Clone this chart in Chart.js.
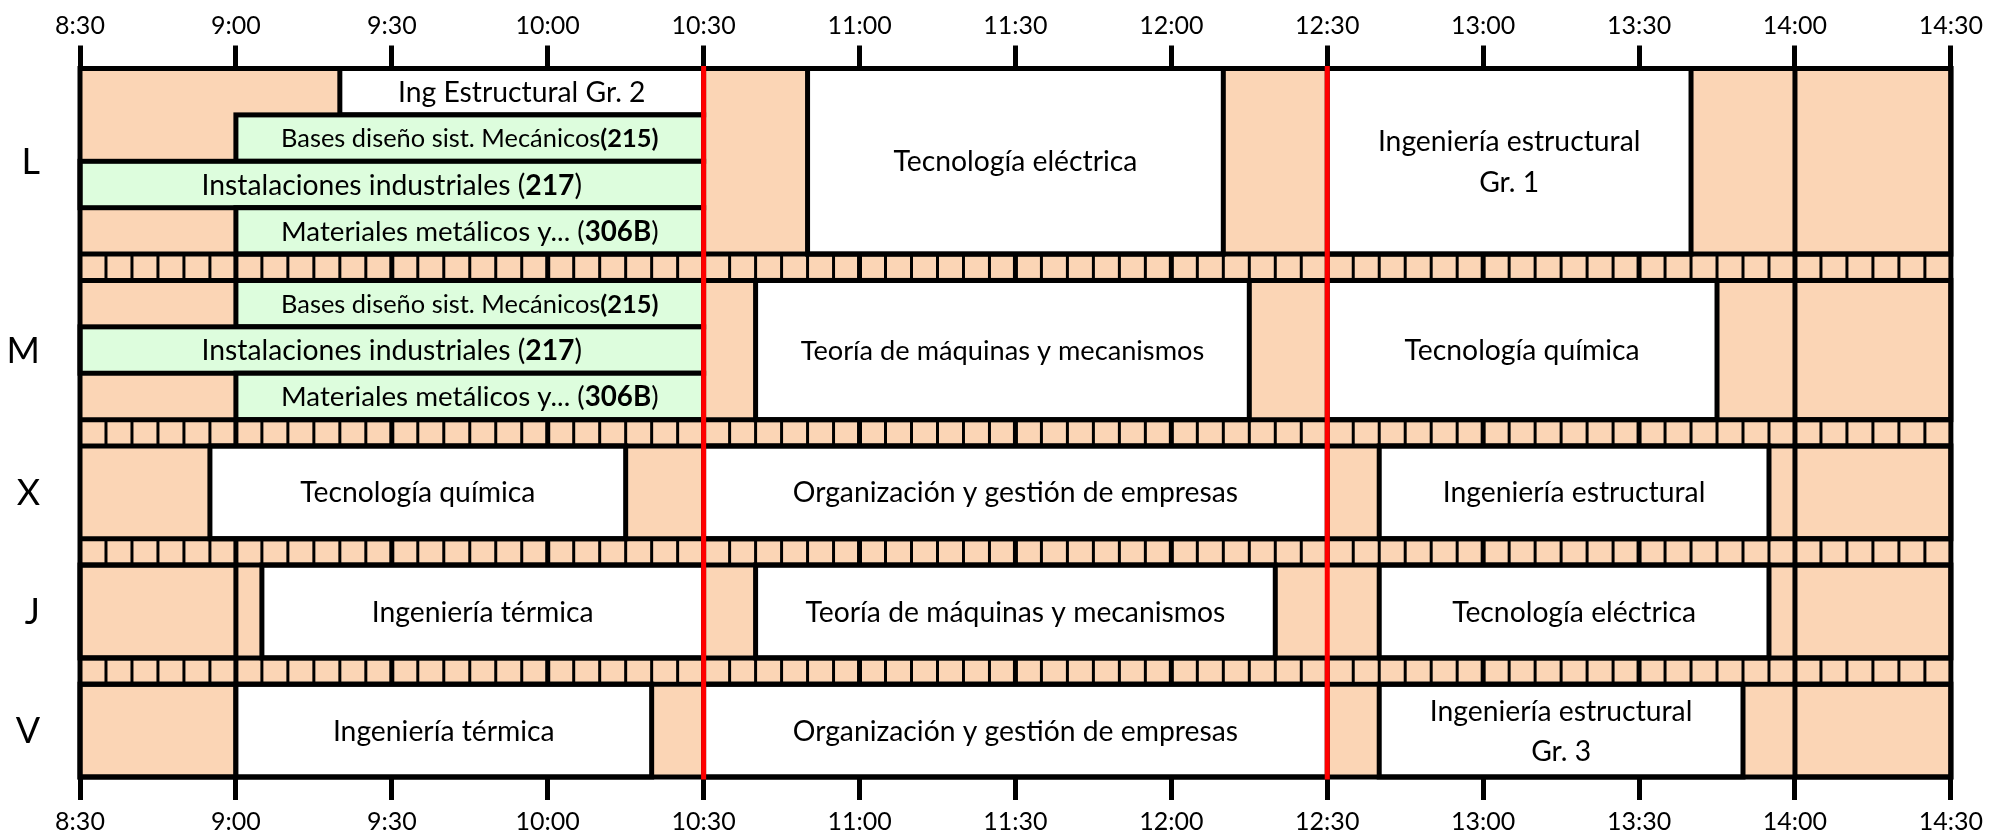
<!DOCTYPE html>
<html><head><meta charset="utf-8">
<script src="https://cdn.jsdelivr.net/npm/chart.js@4.4.1/dist/chart.umd.min.js"></script>
<style>html,body{margin:0;padding:0;background:#fff;}</style>
</head><body>
<canvas id="c" width="1990" height="834"></canvas>
<script>
// ---------- DATA ----------
const days = ['L', 'M', 'X', 'J', 'V'];
const dayLanes = [4, 3, 2, 2, 2];
const timeTicks = ['8:30','9:00','9:30','10:00','10:30','11:00','11:30','12:00','12:30','13:00','13:30','14:00','14:30'];
const redLineTimes = ['10:30', '12:30'];
// [start, end, first lane, lane count, label, kind]
const sesionesL = [
  ['9:20', '10:30', 0, 1, 'Ing Estructural Gr. 2', 'clase'],
  ['9:00', '10:30', 1, 1, 'Bases diseño sist. Mecánicos*(215)*', 'lab'],
  ['8:30', '10:30', 2, 1, 'Instalaciones industriales (*217*)', 'lab'],
  ['9:00', '10:30', 3, 1, 'Materiales metálicos y... (*306B*)', 'lab'],
  ['10:50', '12:10', 0, 4, 'Tecnología eléctrica', 'clase'],
  ['12:30', '13:40', 0, 4, 'Ingeniería estructural\nGr. 1', 'clase'],
  ['14:00', '14:30', 0, 4, '', 'libre']
];
const sesionesM = [
  ['9:00', '10:30', 0, 1, 'Bases diseño sist. Mecánicos*(215)*', 'lab'],
  ['8:30', '10:30', 1, 1, 'Instalaciones industriales (*217*)', 'lab'],
  ['9:00', '10:30', 2, 1, 'Materiales metálicos y... (*306B*)', 'lab'],
  ['10:40', '12:15', 0, 3, 'Teoría de máquinas y mecanismos', 'clase'],
  ['12:30', '13:45', 0, 3, 'Tecnología química', 'clase'],
  ['14:00', '14:30', 0, 3, '', 'libre']
];
const sesionesX = [
  ['8:55', '10:15', 0, 2, 'Tecnología química', 'clase'],
  ['10:30', '12:30', 0, 2, 'Organización y gestión de empresas', 'clase'],
  ['12:40', '13:55', 0, 2, 'Ingeniería estructural', 'clase'],
  ['14:00', '14:30', 0, 2, '', 'libre']
];
const sesionesJ = [
  ['8:30', '9:00', 0, 2, '', 'libre'],
  ['9:05', '10:30', 0, 2, 'Ingeniería térmica', 'clase'],
  ['10:40', '12:20', 0, 2, 'Teoría de máquinas y mecanismos', 'clase'],
  ['12:40', '13:55', 0, 2, 'Tecnología eléctrica', 'clase'],
  ['14:00', '14:30', 0, 2, '', 'libre']
];
const sesionesV = [
  ['8:30', '9:00', 0, 2, '', 'libre'],
  ['9:00', '10:20', 0, 2, 'Ingeniería térmica', 'clase'],
  ['10:30', '12:30', 0, 2, 'Organización y gestión de empresas', 'clase'],
  ['12:40', '13:50', 0, 2, 'Ingeniería estructural\nGr. 3', 'clase'],
  ['14:00', '14:30', 0, 2, '', 'libre']
];
const sesiones = [sesionesL, sesionesM, sesionesX, sesionesJ, sesionesV];

// ---------- STYLE / LAYOUT ----------
const FONT = 'Lato';
const LABEL_SIZE = 28.3;
const PEACH = '#FBD5B5', GREEN = '#DDFDDD', WHITE = '#FFFFFF', RED = '#FF0000', INK = '#000000';
const FILL = { clase: WHITE, lab: GREEN, libre: PEACH };
const BORDER = 5, STRIP_RATIO = 0.567;
const toMin = s => { const p = s.split(':').map(Number); return p[0] * 60 + p[1]; };

const blocks = [], strips = [];
let acc = 0;
days.forEach((d, i) => {
  blocks.push({ top: acc, bottom: acc + dayLanes[i] });
  acc += dayLanes[i];
  if (i < days.length - 1) { strips.push({ top: acc, bottom: acc + STRIP_RATIO }); acc += STRIP_RATIO; }
});
const TOTAL = acc;

function richWidth(ctx, line, size) {
  let w = 0;
  line.split('*').forEach((p, k) => { ctx.font = (k % 2 ? 'bold ' : '') + size + 'px ' + FONT; w += ctx.measureText(p).width; });
  return w;
}
function drawRich(ctx, text, cx, cy, size) {
  const lines = text.split('\n');
  const lh = size * 1.42;
  lines.forEach((line, li) => {
    const parts = line.split('*');
    let xx = cx - richWidth(ctx, line, size) / 2;
    const base = cy + (li - (lines.length - 1) / 2) * lh + size * 0.358;
    parts.forEach((p, k) => {
      ctx.font = (k % 2 ? 'bold ' : '') + size + 'px ' + FONT;
      ctx.fillText(p, xx, base);
      xx += ctx.measureText(p).width;
    });
  });
}

const timetable = {
  id: 'timetable',
  beforeDatasetsDraw(chart) {
    const { ctx, scales: { x, y } } = chart;
    const X = t => x.getPixelForValue(toMin(t));
    const Y = v => y.getPixelForValue(v);
    const x0 = X(timeTicks[0]), x1 = X(timeTicks[timeTicks.length - 1]);
    ctx.save();
    // day blocks background
    blocks.forEach(b => { ctx.fillStyle = PEACH; ctx.fillRect(x0, Y(b.top), x1 - x0, Y(b.bottom) - Y(b.top)); });
    // strips with 5-minute marks
    ctx.strokeStyle = INK;
    strips.forEach(s => {
      ctx.fillStyle = PEACH; ctx.fillRect(x0, Y(s.top), x1 - x0, Y(s.bottom) - Y(s.top));
      for (let m = toMin(timeTicks[0]) + 5; m < toMin(timeTicks[timeTicks.length - 1]); m += 5) {
        const px = x.getPixelForValue(m);
        ctx.lineWidth = (m % 30 === 0) ? 5 : 3;
        ctx.beginPath(); ctx.moveTo(px, Y(s.top)); ctx.lineTo(px, Y(s.bottom)); ctx.stroke();
      }
    });
    // sessions
    sesiones.forEach((list, di) => {
      const b = blocks[di];
      list.forEach(s => {
        const xa = X(s[0]), xb = X(s[1]);
        const ya = Y(b.top + s[2]), yb = Y(b.top + s[2] + s[3]);
        ctx.fillStyle = FILL[s[5]];
        ctx.fillRect(xa, ya, xb - xa, yb - ya);
        ctx.lineWidth = BORDER; ctx.strokeStyle = INK;
        ctx.strokeRect(xa, ya, xb - xa, yb - ya);
      });
    });
    // strip borders
    ctx.lineWidth = BORDER; ctx.strokeStyle = INK;
    strips.forEach(s => {
      [s.top, s.bottom].forEach(v => { ctx.beginPath(); ctx.moveTo(x0, Y(v)); ctx.lineTo(x1, Y(v)); ctx.stroke(); });
    });
    // frame
    ctx.strokeRect(x0, Y(0), x1 - x0, Y(TOTAL) - Y(0));
    // red lines
    ctx.strokeStyle = RED; ctx.lineWidth = 5;
    redLineTimes.forEach(t => { ctx.beginPath(); ctx.moveTo(X(t), Y(0) - 2.5); ctx.lineTo(X(t), Y(TOTAL) + 2.5); ctx.stroke(); });
    // session labels
    ctx.fillStyle = INK; ctx.textBaseline = 'alphabetic'; ctx.textAlign = 'left';
    sesiones.forEach((list, di) => {
      const b = blocks[di];
      list.forEach(s => {
        if (!s[4]) return;
        const xa = X(s[0]), xb = X(s[1]);
        const ya = Y(b.top + s[2]), yb = Y(b.top + s[2] + s[3]);
        let size = LABEL_SIZE;
        const maxW = Math.max(...s[4].split('\n').map(l => richWidth(ctx, l, size)));
        const room = (xb - xa) - 90;
        if (maxW > room) size = size * room / maxW;
        drawRich(ctx, s[4], (xa + xb) / 2, (ya + yb) / 2, size);
      });
    });
    // day labels
    ctx.font = '36px ' + FONT; ctx.textAlign = 'right';
    days.forEach((d, i) => {
      const b = blocks[i];
      ctx.fillText(d, 40, (Y(b.top) + Y(b.bottom)) / 2 + 36 * 0.358);
    });
    ctx.restore();
  }
};

const tickFmt = v => { const i = timeTicks.findIndex(t => toMin(t) === v); return i >= 0 ? timeTicks[i] : ''; };
const axisCommon = (pos) => ({
  type: 'linear', position: pos,
  min: toMin(timeTicks[0]), max: toMin(timeTicks[timeTicks.length - 1]),
  afterBuildTicks: s => { s.ticks = timeTicks.map(t => ({ value: toMin(t) })); },
  ticks: { callback: tickFmt, color: INK, font: { family: FONT, size: 25 }, padding: pos === 'top' ? 5 : 7, maxRotation: 0, autoSkip: false },
  grid: { drawOnChartArea: false, drawTicks: true, tickLength: 23, tickWidth: 5, tickColor: INK },
  border: { display: false },
  afterFit: s => { s.height = pos === 'top' ? 68.5 : 834 - 777; }
});

new Chart(document.getElementById('c'), {
  type: 'scatter',
  data: { datasets: [{ data: [], xAxisID: 'x', yAxisID: 'y' }] },
  options: {
    responsive: false, animation: false, devicePixelRatio: 1,
    layout: { padding: { left: 80, right: 39, top: 0, bottom: 0 } },
    plugins: { legend: { display: false }, tooltip: { enabled: false } },
    scales: {
      x: axisCommon('top'),
      x2: axisCommon('bottom'),
      y: { type: 'linear', reverse: true, min: 0, max: TOTAL, display: false }
    }
  },
  plugins: [timetable]
});
</script>
</body></html>
